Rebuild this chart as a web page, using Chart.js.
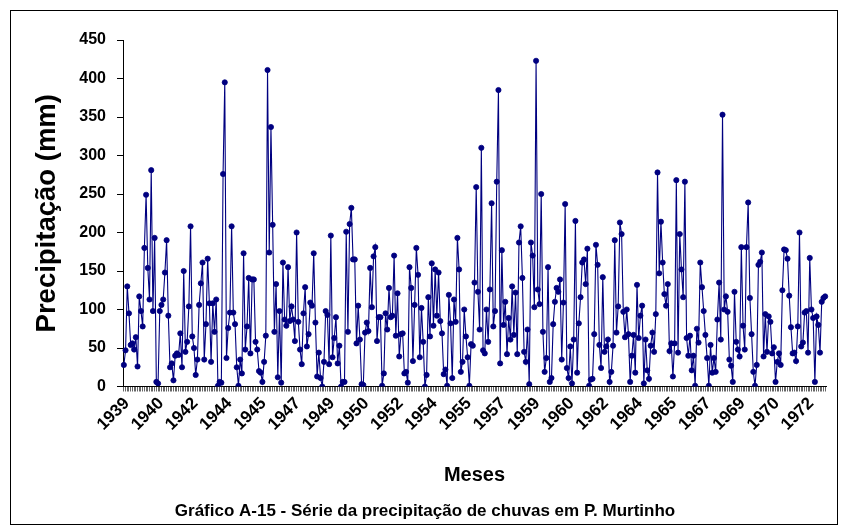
<!DOCTYPE html>
<html>
<head>
<meta charset="utf-8">
<script src="https://cdn.jsdelivr.net/npm/chart.js@4.4.0/dist/chart.umd.min.js"></script>
<style>
html,body{margin:0;padding:0;background:#fff;}
#wrap{width:848px;height:526px;position:relative;}
</style>
</head>
<body>
<div id="wrap"><canvas id="c" width="848" height="526"></canvas></div>
<script>
// ---- data (monthly rainfall, mm, starting Jan 1939) ----
const startYear = 1939;
const precipitation = [
  28,47,130,95,54,56,48,64,26,117,98,78,180,249,154,113,281,98,193,6,4,98,106,113,148,190,92,25,30,8,40,43,41,69,25,150,45,58,104,208,
  65,50,15,35,106,134,161,35,81,166,108,32,108,71,113,1,6,5,276,395,37,76,96,208,96,81,25,1,35,17,173,48,78,141,43,139,139,58,48,20,18,6,32,66,411,
  174,337,210,71,133,12,98,5,161,87,79,155,85,104,87,59,200,84,48,29,95,129,52,68,109,105,173,83,13,44,11,0,32,98,93,29,196,38,63,90,30,53,
  0,6,6,201,71,211,232,165,165,56,105,61,3,2,70,83,72,154,103,169,181,59,90,90,1,17,95,74,128,90,92,170,66,121,39,68,69,17,19,5,155,128,33,106,180,
  145,38,102,58,0,15,116,65,160,79,152,92,148,85,69,16,22,1,119,82,11,113,84,193,152,19,32,100,65,38,1,55,53,135,259,123,74,310,47,43,100,58,126,238,
  78,98,266,385,30,177,80,110,42,89,61,130,67,122,42,187,208,141,45,32,74,3,187,170,103,423,126,107,250,71,19,37,155,6,11,81,110,128,123,139,35,109,237,24,
  11,52,4,61,215,18,82,116,161,165,133,179,1,9,10,68,184,158,54,24,142,45,52,61,6,19,53,190,70,104,213,198,97,64,100,68,6,40,67,18,132,63,92,105,
  4,61,21,10,53,70,45,94,278,147,214,161,120,105,133,46,56,13,56,268,44,198,152,116,266,63,40,66,21,40,1,75,57,161,129,98,67,37,1,54,18,37,19,
  87,135,61,353,100,117,97,35,27,6,123,58,48,39,181,79,48,181,239,115,68,19,1,28,158,162,174,39,94,45,91,84,43,51,6,32,43,28,125,178,177,166,118,77,43,
  44,33,78,200,52,57,96,98,44,167,100,89,6,91,80,44,110,115,117
];
const tickLabels = ['1939','1940','1942','1944','1945','1947','1949','1950','1952','1954','1955',
                    '1957','1959','1960','1962','1964','1965','1967','1969','1970','1972'];
const tickEvery = 20;
const yTicks = [0,50,100,150,200,250,300,350,400,450];
const yTitle = 'Precipitação (mm)';
const xTitle = 'Meses';
const caption = 'Gráfico A-15 - Série da precipitação de chuvas em P. Murtinho';

const categories = precipitation.map((_, i) =>
  (startYear + Math.floor(i / 12)) + '-' + String(i % 12 + 1).padStart(2, '0'));

const FONT = '"Liberation Sans", Arial, Helvetica, sans-serif';

const framePlugin = {
  id: 'frame',
  beforeDraw(chart) {
    const c = chart.ctx;
    c.save();
    c.fillStyle = '#fff';
    c.fillRect(0, 0, chart.width, chart.height);
    c.restore();
  },
  afterDraw(chart) {
    const c = chart.ctx;
    c.save();
    c.strokeStyle = '#000';
    c.lineWidth = 1;
    c.strokeRect(10.5, 10.5, 827, 514);
    // caption below the chart
    c.fillStyle = '#000';
    c.font = 'bold 17px ' + FONT;
    c.textAlign = 'center';
    c.textBaseline = 'middle';
    c.fillText(caption, 425, 511);
    c.restore();
  }
};

new Chart(document.getElementById('c'), {
  type: 'line',
  data: {
    labels: categories,
    datasets: [{
      data: precipitation,
      borderColor: '#000080',
      backgroundColor: '#000080',
      borderWidth: 1.1,
      pointRadius: 2.6,
      pointBorderWidth: 0.8,
      pointBackgroundColor: '#000080',
      pointBorderColor: '#000080',
      tension: 0,
      fill: false
    }]
  },
  options: {
    responsive: false,
    animation: false,
    devicePixelRatio: 1,
    layout: { padding: { left: 10, top: 40, right: 22, bottom: 24.4 } },
    plugins: {
      legend: { display: false },
      tooltip: { enabled: false },
      title: { display: false }
    },
    scales: {
      x: {
        type: 'category',
        offset: true,
        grid: { display: true, drawOnChartArea: false, drawTicks: true, tickLength: 5, color: '#666', lineWidth: 1 },
        border: { display: true, color: '#000', width: 1 },
        ticks: {
          autoSkip: false, maxRotation: 45, minRotation: 45, padding: 2, labelOffset: 3, color: '#000',
          font: { family: FONT, size: 17, weight: 'bold' },
          callback: (v, i) => (i % tickEvery === 0 ? tickLabels[i / tickEvery] : '')
        },
        title: {
          display: true, text: xTitle, color: '#000',
          font: { family: FONT, size: 20, weight: 'bold' },
          padding: { top: 0, bottom: 14.6 }
        },
        afterFit: (s) => { s.height = 115.1; }
      },
      y: {
        min: 0, max: 450,
        afterBuildTicks: (s) => { s.ticks = yTicks.map(v => ({ value: v })); },
        grid: { display: true, drawOnChartArea: false, drawTicks: true, tickLength: 6, color: '#000' },
        border: { display: true, color: '#000', width: 1 },
        ticks: { padding: 11, color: '#000', font: { family: FONT, size: 16, weight: 'bold' } },
        title: {
          display: true, text: yTitle, color: '#000',
          font: { family: FONT, size: 27.5, weight: 'bold' },
          padding: { top: 20.5, bottom: 0 }
        },
        afterFit: (s) => { s.width = 113; }
      }
    }
  },
  plugins: [framePlugin]
});
</script>
</body>
</html>
